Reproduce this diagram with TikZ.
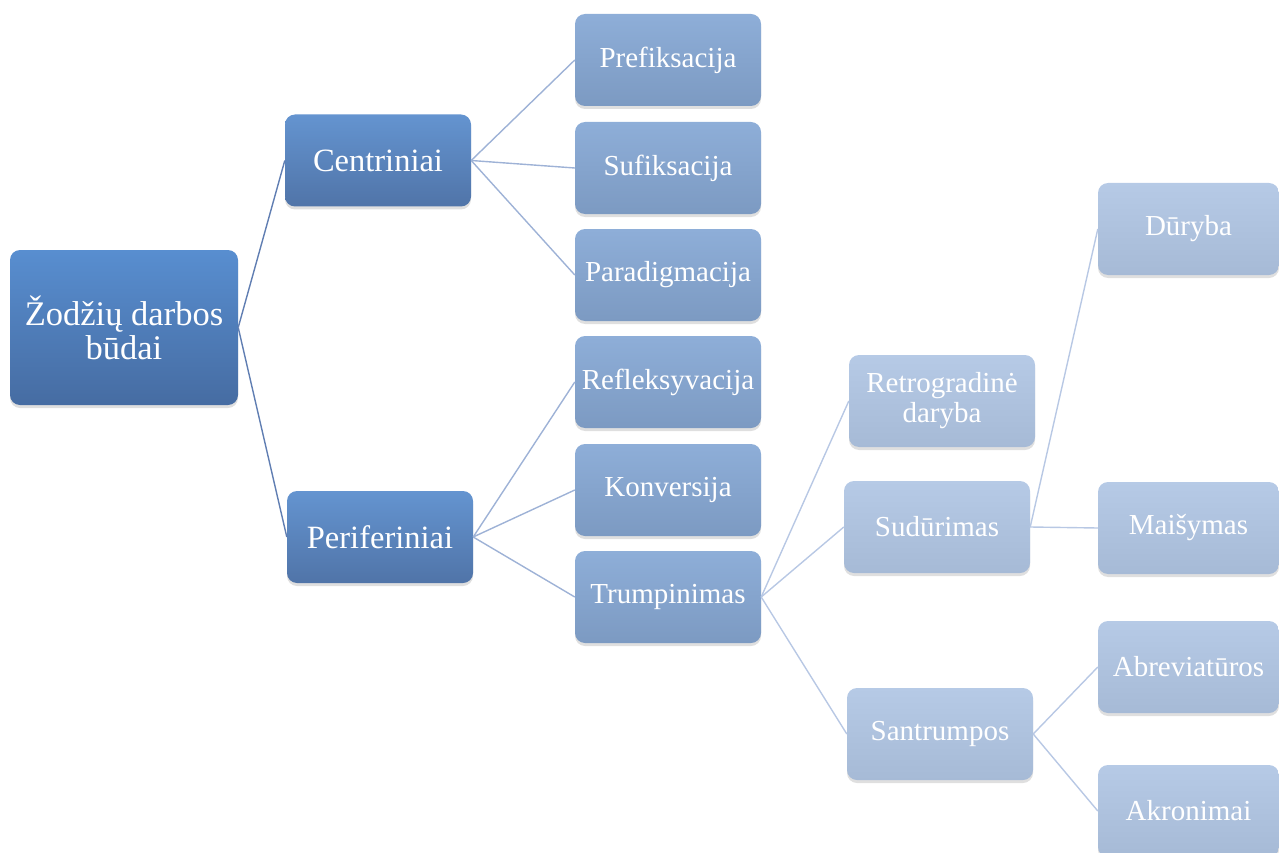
\documentclass[tikz,border=0pt]{standalone}
\usepackage{fontspec}
\setmainfont{Liberation Serif}
\usetikzlibrary{shadows}
\definecolor{rootTop}{RGB}{88,142,208}
\definecolor{rootBot}{RGB}{70,108,162}
\definecolor{lvTwoTop}{RGB}{100,148,208}
\definecolor{lvTwoBot}{RGB}{80,116,168}
\definecolor{lvThreeTop}{RGB}{142,174,216}
\definecolor{lvThreeBot}{RGB}{124,154,194}
\definecolor{lvFourTop}{RGB}{182,202,230}
\definecolor{lvFourBot}{RGB}{166,186,214}
\definecolor{lnOne}{RGB}{96,126,178}
\definecolor{lnTwo}{RGB}{158,178,214}
\definecolor{lnThree}{RGB}{184,200,228}
\begin{document}
\begin{tikzpicture}[x=1pt,y=-1pt,
  box/.style={rectangle, rounded corners=10pt, text=white, align=center,
    inner sep=0pt, minimum width=186pt, minimum height=92pt,
    drop shadow={opacity=0.25, shadow xshift=0pt, shadow yshift=-3pt}},
  rootbox/.style={box, top color=rootTop, bottom color=rootBot,
    minimum width=228pt, minimum height=155pt, font=\fontsize{34.5}{38}\selectfont},
  twobox/.style={box, top color=lvTwoTop, bottom color=lvTwoBot,
    font=\fontsize{32.5}{36}\selectfont},
  threebox/.style={box, top color=lvThreeTop, bottom color=lvThreeBot,
    font=\fontsize{29}{32}\selectfont},
  fourbox/.style={box, top color=lvFourTop, bottom color=lvFourBot,
    font=\fontsize{29}{32}\selectfont},
  fivebox/.style={fourbox, minimum width=181pt},
  linkA/.style={draw=lnOne, line width=1.4pt},
  linkB/.style={draw=lnTwo, line width=1.4pt},
  linkC/.style={draw=lnThree, line width=1.4pt}]
\useasboundingbox (0,0) rectangle (1279,853);
\clip (0,0) rectangle (1279,853);

% root
\node[rootbox] (root) at (124,327.5) {Žodžių darbos\\[-4pt]būdai};

% second level
\node[twobox] (cen) at (378,160.5) {Centriniai};
\node[twobox] (per) at (380,537) {Periferiniai};

% third level
\node[threebox] (pref) at (668,60) {Prefiksacija};
\node[threebox] (suf)  at (668,168) {Sufiksacija};
\node[threebox] (par)  at (668,275) {Paradigmacija};
\node[threebox] (ref)  at (668,382) {Refleksyvacija};
\node[threebox] (kon)  at (668,490) {Konversija};
\node[threebox] (tru)  at (668,597) {Trumpinimas};

% fourth level
\node[fourbox] (ret) at (942,401) {Retrogradinė\\[-2pt]daryba};
\node[fourbox] (sud) at (937,527) {Sudūrimas};
\node[fourbox] (san) at (940,734) {Santrumpos};

% fifth level
\node[fivebox] (dur) at (1188.5,229) {Dūryba};
\node[fivebox] (mai) at (1188.5,528) {Maišymas};
\node[fivebox] (abr) at (1188.5,667) {Abreviatūros};
\node[fivebox] (akr) at (1188.5,811) {Akronimai};

% connectors between parents and children
\draw[linkA] (root.east) -- (cen.west);
\draw[linkA] (root.east) -- (per.west);
\draw[linkB] (cen.east) -- (pref.west);
\draw[linkB] (cen.east) -- (suf.west);
\draw[linkB] (cen.east) -- (par.west);
\draw[linkB] (per.east) -- (ref.west);
\draw[linkB] (per.east) -- (kon.west);
\draw[linkB] (per.east) -- (tru.west);
\draw[linkC] (tru.east) -- (ret.west);
\draw[linkC] (tru.east) -- (sud.west);
\draw[linkC] (tru.east) -- (san.west);
\draw[linkC] (sud.east) -- (dur.west);
\draw[linkC] (sud.east) -- (mai.west);
\draw[linkC] (san.east) -- (abr.west);
\draw[linkC] (san.east) -- (akr.west);
\end{tikzpicture}
\end{document}
